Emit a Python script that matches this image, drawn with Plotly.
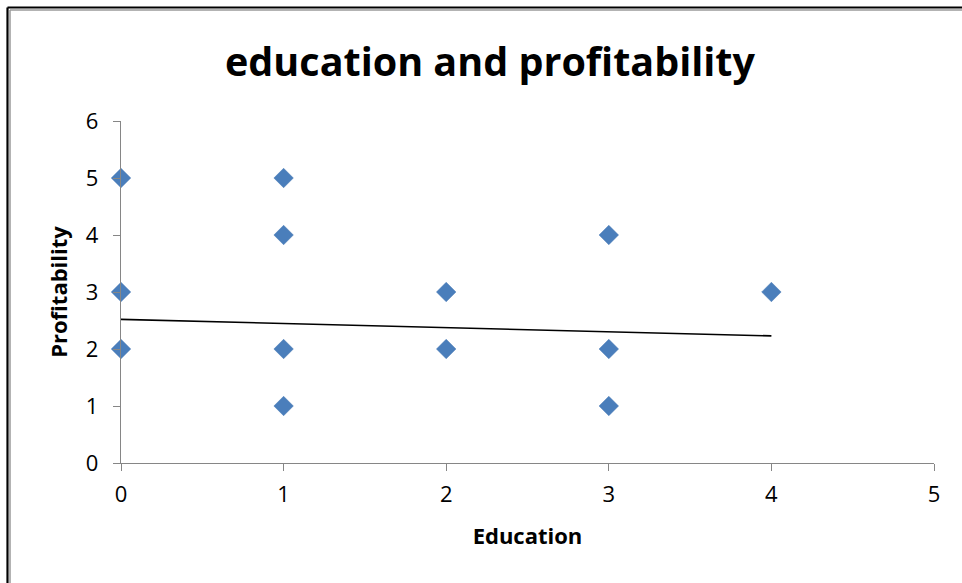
import plotly.graph_objects as go

# Scatter data: years of education vs profitability score
education = [0, 0, 0, 1, 1, 1, 1, 2, 2, 3, 3, 3, 4]
profitability = [5, 3, 2, 5, 4, 2, 1, 3, 2, 4, 2, 1, 3]

# Linear trendline endpoints
trend_x = [0, 4]
trend_y = [2.52, 2.23]

x_ticks = [0, 1, 2, 3, 4, 5]
y_ticks = [0, 1, 2, 3, 4, 5, 6]

W, H = 962, 583
L, R, T, B = 121, 28, 121, 120
PW, PH = W - L - R, H - T - B

FONT = "Open Sans"
AXIS_GRAY = "#868686"


def px_x(p):
    return (p - L) / PW


def px_y(p):
    return (H - B - p) / PH


fig = go.Figure()

fig.add_trace(go.Scatter(
    x=trend_x, y=trend_y, mode="lines",
    line=dict(color="black", width=1.6),
    hoverinfo="skip", showlegend=False,
))

fig.add_trace(go.Scatter(
    x=education, y=profitability, mode="markers",
    marker=dict(symbol="diamond", size=15, color="#4A7EBB",
                line=dict(color="#4576B3", width=0.5)),
    cliponaxis=False, showlegend=False,
))

axis_common = dict(
    showgrid=False, zeroline=False, showline=True,
    linecolor=AXIS_GRAY, linewidth=1.3,
    ticks="outside", ticklen=7, tickcolor=AXIS_GRAY, tickwidth=1.3,
    tickfont=dict(family=FONT, size=22, color="black"),
)

fig.update_xaxes(
    range=[0, 5], tickvals=x_ticks, ticklabelstandoff=4, **axis_common,
    title=dict(text="<b>Education</b>", font=dict(family=FONT, size=22, color="black"),
               standoff=22),
)
fig.update_yaxes(
    range=[0, 6], tickvals=y_ticks, ticklabelstandoff=10, **axis_common,
    title=dict(text="<b>Profitability</b>", font=dict(family=FONT, size=22, color="black"),
               standoff=12),
)

# Chart frame: dark outer line with a grey inner line along top and left
frame = []
for pos, col, w in [(7.5, "black", 2.2), (10, "#9a9a9a", 1.5)]:
    frame.append(dict(type="line", xref="paper", yref="paper",
                      x0=px_x(pos), x1=px_x(pos), y0=px_y(pos), y1=px_y(H + 5),
                      line=dict(color=col, width=w)))
    frame.append(dict(type="line", xref="paper", yref="paper",
                      x0=px_x(pos), x1=px_x(W + 5), y0=px_y(pos), y1=px_y(pos),
                      line=dict(color=col, width=w)))

fig.update_layout(
    width=W, height=H,
    margin=dict(l=L, r=R, t=T, b=B),
    paper_bgcolor="white", plot_bgcolor="white",
    shapes=frame,
    title=dict(text="<b>education and profitability</b>",
               font=dict(family=FONT, size=39.5, color="black"),
               xref="container", x=490 / W, xanchor="center",
               yref="container", y=1 - 62 / H, yanchor="middle"),
)

fig.write_html("out.html")
